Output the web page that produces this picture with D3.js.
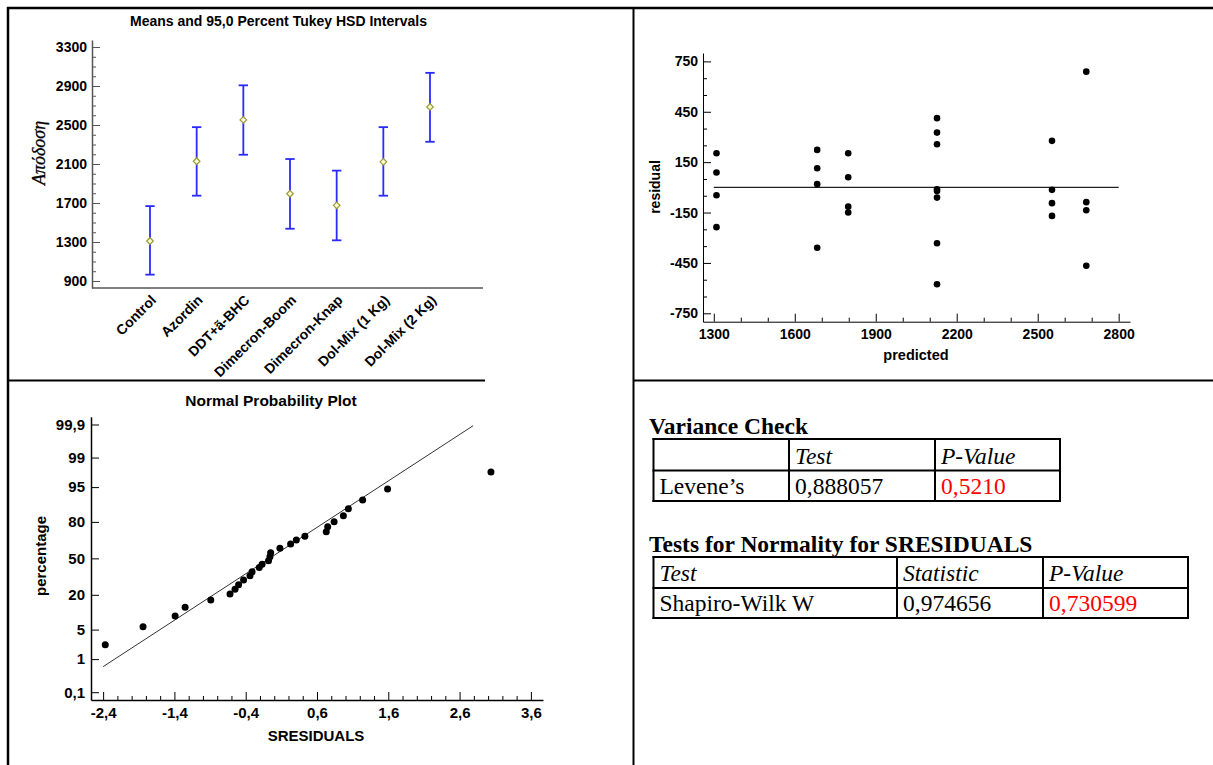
<!DOCTYPE html>
<html><head><meta charset="utf-8">
<script src="https://cdn.jsdelivr.net/npm/d3@7"></script>
<style>
html,body{margin:0;padding:0;background:#fff;}
svg{display:block;}
</style></head><body>
<svg id="c" width="1213" height="765"></svg>
<script>
// ================= DATA =================
// Panel 1: Means and 95,0 Percent Tukey HSD Intervals
const categories = ["Control","Azordin","DDT+ã-BHC","Dimecron-Boom","Dimecron-Knap","Dol-Mix (1 Kg)","Dol-Mix (2 Kg)"];
const means       = [1310, 2128, 2552, 1795, 1676, 2122, 2685];
const lowerLimits = [ 965, 1775, 2195, 1436, 1317, 1775, 2328];
const upperLimits = [1668, 2478, 2907, 2151, 2032, 2478, 3035];
const meansTicks  = [900, 1300, 1700, 2100, 2500, 2900, 3300];

// Panel 2: residual vs predicted
const predicted = [1310,1310,1310,1310, 1683,1683,1683,1683, 1798,1798,1798,1798,
                   2127,2127,2127,2127,2127,2127,2127,2127, 2553,2553,2553,2553, 2680,2680,2680,2680];
const residuals = [203,88,-47,-237, 223,114,19,-360, 203,60,-115,-150,
                   412,326,257,-12,-22,-61,-333,-577, 277,-15,-94,-170, 689,-88,-136,-467];
const residTicks = [-750,-450,-150,150,450,750];
const predTicks  = [1300,1600,1900,2200,2500,2800];
const zeroLineX  = [1300, 2800];

// Panel 3: Normal probability plot
const sres = [-2.37,-1.84,-1.39,-1.25,-0.89,-0.62,-0.55,-0.50,-0.43,-0.34,-0.31,-0.21,-0.17,-0.08,
              -0.06,-0.05,0.08,0.23,0.31,0.43,0.73,0.75,0.84,0.97,1.04,1.24,1.59,3.04];
const pct  = [2.3,5.7,9.2,12.9,16.8,20.5,23.7,27.1,30.9,34.4,37.9,41.6,44.6,47.8,
              51.5,55.2,59.2,63.0,66.4,69.5,73.1,76.8,80.1,83.7,87.4,91.1,94.5,97.7];
const fitLineX = [-2.40, 2.79];
const fitLineP = [0.62, 99.89];
const probTicks = [0.1, 1, 5, 20, 50, 80, 95, 99, 99.9];
const probTickLabels = ["0,1","1","5","20","50","80","95","99","99,9"];
const sresTicks = [-2.4,-1.4,-0.4,0.6,1.6,2.6,3.6];

// Panel 4: tables
const varTitle = "Variance Check";
const varHeader = ["", "Test", "P-Value"];
const varRow = ["Levene’s", "0,888057", "0,5210"];
const normTitle = "Tests for Normality for SRESIDUALS";
const normHeader = ["Test", "Statistic", "P-Value"];
const normRow = ["Shapiro-Wilk W", "0,974656", "0,730599"];

// ================= HELPERS =================
function qnorm(p){
  const a=[-3.969683028665376e+01,2.209460984245205e+02,-2.759285104469687e+02,1.383577518672690e+02,-3.066479806614716e+01,2.506628277459239e+00];
  const b=[-5.447609879822406e+01,1.615858368580409e+02,-1.556989798598866e+02,6.680131188771972e+01,-1.328068155288572e+01];
  const c=[-7.784894002430293e-03,-3.223964580411365e-01,-2.400758277161838e+00,-2.549732539343734e+00,4.374664141464968e+00,2.938163982698783e+00];
  const d=[7.784695709041462e-03,3.224671290700398e-01,2.445134137142996e+00,3.754408661907416e+00];
  const pl=0.02425, ph=1-pl; let q,r;
  if(p<pl){q=Math.sqrt(-2*Math.log(p));return (((((c[0]*q+c[1])*q+c[2])*q+c[3])*q+c[4])*q+c[5])/((((d[0]*q+d[1])*q+d[2])*q+d[3])*q+1);}
  if(p<=ph){q=p-0.5;r=q*q;return (((((a[0]*r+a[1])*r+a[2])*r+a[3])*r+a[4])*r+a[5])*q/(((((b[0]*r+b[1])*r+b[2])*r+b[3])*r+b[4])*r+1);}
  q=Math.sqrt(-2*Math.log(1-p));return -(((((c[0]*q+c[1])*q+c[2])*q+c[3])*q+c[4])*q+c[5])/((((d[0]*q+d[1])*q+d[2])*q+d[3])*q+1);
}
const commaFmt = d3.formatLocale({decimal:",", thousands:".", grouping:[3], currency:["",""], minus:"-"}).format(".1f");
function minorRange(a,b,step,majors){
  const out=[]; for(let v=a; v<=b+1e-9; v+=step){ const r=Math.round(v*1000)/1000; if(!majors.some(m=>Math.abs(m-r)<1e-6)) out.push(r);} return out;
}
const SANS = "'Liberation Sans', Arial, sans-serif";
const SERIF = "'Liberation Serif', 'Times New Roman', serif";

const svg = d3.select("#c");

// ================= CELL BORDERS =================
const borders = svg.append("g").attr("stroke","#000").attr("fill","none");
borders.append("line").attr("x1",8).attr("x2",8).attr("y1",7).attr("y2",765).attr("stroke-width",2.5);
borders.append("line").attr("x1",7).attr("x2",1213).attr("y1",8).attr("y2",8).attr("stroke-width",2.5);
borders.append("line").attr("x1",633.5).attr("x2",633.5).attr("y1",8).attr("y2",765).attr("stroke-width",2);
borders.append("line").attr("x1",8).attr("x2",485).attr("y1",380.5).attr("y2",380.5).attr("stroke-width",2);
borders.append("line").attr("x1",633).attr("x2",1213).attr("y1",380.5).attr("y2",380.5).attr("stroke-width",2);

function styleAxis(g, size, color){
  g.selectAll("text").attr("font-family",SANS).attr("font-weight","bold").attr("font-size",size).attr("fill","#000");
  g.selectAll("line").attr("stroke",color);
  g.selectAll("path").attr("stroke",color);
}

// ================= PANEL 1 =================
(function(){
  const g = svg.append("g");
  const y = d3.scaleLinear().domain([828, 3372]).range([288, 40]);
  const x = d3.scalePoint().domain(categories).range([150, 430]);
  const axisX0 = 92, axisX1 = 483;

  g.append("text").attr("x",278.5).attr("y",26).attr("text-anchor","middle")
    .attr("font-family",SANS).attr("font-weight","bold").attr("font-size",14).attr("fill","#000")
    .text("Means and 95,0 Percent Tukey HSD Intervals");

  const ya = g.append("g").attr("transform",`translate(${axisX0},0)`)
    .call(d3.axisLeft(y).tickValues(meansTicks).tickFormat(d=>String(d)).tickSizeInner(-8).tickSizeOuter(0).tickPadding(5));
  styleAxis(ya, 14, "#555");
  ya.select(".domain").attr("stroke-width",1.5);
  const ym = g.append("g").attr("transform",`translate(${axisX0},0)`)
    .call(d3.axisLeft(y).tickValues(minorRange(900,3300,100,meansTicks)).tickFormat("").tickSizeInner(-4).tickSizeOuter(0));
  ym.select(".domain").remove(); ym.selectAll("line").attr("stroke","#555");

  // x axis line
  g.append("line").attr("x1",axisX0).attr("x2",axisX1).attr("y1",y.range()[0]).attr("y2",y.range()[0])
    .attr("stroke","#555").attr("stroke-width",1.5);

  g.selectAll(".xl").data(categories).join("text")
    .attr("transform",d=>`translate(${x(d)+7},301) rotate(-45)`)
    .attr("text-anchor","end").attr("font-family",SANS).attr("font-weight","bold").attr("font-size",14).attr("fill","#000")
    .text(d=>d);

  g.append("text").attr("transform","translate(45,153) rotate(-90)").attr("text-anchor","middle")
    .attr("font-family",SERIF).attr("font-style","italic").attr("font-size",18).attr("fill","#000")
    .attr("stroke","#000").attr("stroke-width",0.3)
    .text("Απόδοση");

  const bars = g.append("g").attr("stroke","#2a2aff").attr("stroke-width",1.8).attr("fill","none");
  categories.forEach((c,i)=>{
    const cx = x(c);
    bars.append("line").attr("x1",cx).attr("x2",cx).attr("y1",y(lowerLimits[i])).attr("y2",y(upperLimits[i]));
    bars.append("line").attr("x1",cx-4.7).attr("x2",cx+4.7).attr("y1",y(lowerLimits[i])).attr("y2",y(lowerLimits[i]));
    bars.append("line").attr("x1",cx-4.7).attr("x2",cx+4.7).attr("y1",y(upperLimits[i])).attr("y2",y(upperLimits[i]));
  });
  g.selectAll(".mean").data(means).join("path")
    .attr("d",(d,i)=>{const cx=x(categories[i]), cy=y(d); return `M${cx-3.3},${cy}L${cx},${cy-3.3}L${cx+3.3},${cy}L${cx},${cy+3.3}Z`;})
    .attr("fill","#fbfbd0").attr("stroke","#9a9a3a").attr("stroke-width",1.2);
})();

// ================= PANEL 2 =================
(function(){
  const g = svg.append("g");
  const x = d3.scaleLinear().domain([1260, 2842]).range([703, 1130]);
  const y = d3.scaleLinear().domain([-800, 800]).range([321.7, 53]);

  const ya = g.append("g").attr("transform",`translate(${x.range()[0]},0)`)
    .call(d3.axisLeft(y).tickValues(residTicks).tickFormat(d=>String(d)).tickSizeInner(-8).tickSizeOuter(0).tickPadding(5));
  styleAxis(ya, 14, "#000");
  const ym = g.append("g").attr("transform",`translate(${x.range()[0]},0)`)
    .call(d3.axisLeft(y).tickValues(minorRange(-750,750,100,residTicks)).tickFormat("").tickSizeInner(-4).tickSizeOuter(0));
  ym.select(".domain").remove(); ym.selectAll("line").attr("stroke","#000");

  const xa = g.append("g").attr("transform",`translate(0,${y.range()[0]})`)
    .call(d3.axisBottom(x).tickValues(predTicks).tickFormat(d=>String(d)).tickSizeInner(-8).tickSizeOuter(0).tickPadding(7));
  styleAxis(xa, 14, "#000");
  const xm = g.append("g").attr("transform",`translate(0,${y.range()[0]})`)
    .call(d3.axisBottom(x).tickValues(minorRange(1300,2800,100,predTicks)).tickFormat("").tickSizeInner(-4).tickSizeOuter(0));
  xm.select(".domain").remove(); xm.selectAll("line").attr("stroke","#000");

  g.append("line").attr("x1",x(zeroLineX[0])).attr("x2",x(zeroLineX[1])).attr("y1",y(0)).attr("y2",y(0))
    .attr("stroke","#222").attr("stroke-width",1.3);

  g.selectAll(".pt").data(residuals).join("circle")
    .attr("cx",(d,i)=>x(predicted[i])).attr("cy",d=>y(d)).attr("r",3.3).attr("fill","#000");

  g.append("text").attr("transform","translate(660,187) rotate(-90)").attr("text-anchor","middle")
    .attr("font-family",SANS).attr("font-weight","bold").attr("font-size",14).attr("fill","#000").text("residual");
  g.append("text").attr("x",916).attr("y",360).attr("text-anchor","middle")
    .attr("font-family",SANS).attr("font-weight","bold").attr("font-size",14.5).attr("fill","#000").text("predicted");
})();

// ================= PANEL 3 =================
(function(){
  const g = svg.append("g");
  const x = d3.scaleLinear().domain([-2.57, 3.77]).range([91, 543]);
  const z = d3.scaleLinear().domain([-3.27, 3.27]).range([700, 416.7]);
  const yP = p => z(qnorm(p/100));

  g.append("text").attr("x",271).attr("y",406).attr("text-anchor","middle")
    .attr("font-family",SANS).attr("font-weight","bold").attr("font-size",15.5).attr("fill","#000")
    .text("Normal Probability Plot");

  const ya = g.append("g").attr("transform",`translate(${x.range()[0]},0)`)
    .call(d3.axisLeft(z).tickValues(probTicks.map(p=>qnorm(p/100))).tickFormat((d,i)=>probTickLabels[i])
      .tickSizeInner(-8).tickSizeOuter(0).tickPadding(6));
  styleAxis(ya, 15, "#000");
  ya.select(".domain").attr("stroke-width",1.5);

  const xa = g.append("g").attr("transform",`translate(0,${z.range()[0]})`)
    .call(d3.axisBottom(x).tickValues(sresTicks).tickFormat(d=>commaFmt(d)).tickSizeInner(-8).tickSizeOuter(0).tickPadding(7));
  styleAxis(xa, 15, "#000");
  xa.select(".domain").attr("stroke-width",1.5);
  const xm = g.append("g").attr("transform",`translate(0,${z.range()[0]})`)
    .call(d3.axisBottom(x).tickValues(minorRange(-2.4,3.6,0.2,sresTicks)).tickFormat("").tickSizeInner(-4).tickSizeOuter(0));
  xm.select(".domain").remove(); xm.selectAll("line").attr("stroke","#000");

  g.append("line").attr("x1",x(fitLineX[0])).attr("x2",x(fitLineX[1]))
    .attr("y1",yP(fitLineP[0])).attr("y2",yP(fitLineP[1])).attr("stroke","#333").attr("stroke-width",1);

  g.selectAll(".np").data(sres).join("circle")
    .attr("cx",d=>x(d)).attr("cy",(d,i)=>yP(pct[i])).attr("r",3.5).attr("fill","#000");

  g.append("text").attr("transform","translate(46,556) rotate(-90)").attr("text-anchor","middle")
    .attr("font-family",SANS).attr("font-weight","bold").attr("font-size",15).attr("fill","#000").text("percentage");
  g.append("text").attr("x",316).attr("y",741).attr("text-anchor","middle")
    .attr("font-family",SANS).attr("font-weight","bold").attr("font-size",15).attr("fill","#000").text("SRESIDUALS");
})();

// ================= PANEL 4: TABLES =================
(function(){
  const g = svg.append("g");
  function table(cols, rows, cells, styles){
    const tg = g.append("g");
    rows.forEach(yv=>tg.append("line").attr("x1",cols[0]-1).attr("x2",cols[cols.length-1]+1).attr("y1",yv).attr("y2",yv)
      .attr("stroke","#000").attr("stroke-width",2));
    cols.forEach(xv=>tg.append("line").attr("x1",xv).attr("x2",xv).attr("y1",rows[0]-1).attr("y2",rows[rows.length-1]+1)
      .attr("stroke","#000").attr("stroke-width",2));
    cells.forEach((row,r)=>row.forEach((txt,c)=>{
      const s = styles(r,c);
      tg.append("text").attr("x",cols[c]+6).attr("y",rows[r+1]-7)
        .attr("font-family",SERIF).attr("font-size",23.5)
        .attr("font-style",s.italic?"italic":"normal").attr("fill",s.color||"#000").text(txt);
    }));
  }
  g.append("text").attr("x",649).attr("y",434).attr("font-family",SERIF).attr("font-weight","bold")
    .attr("font-size",23.5).attr("fill","#000").text(varTitle);
  table([653.5,789,935,1060],[439,470.5,501],[varHeader,varRow],
    (r,c)=>({italic:r===0, color:(r===1&&c===2)?"#ff0000":"#000"}));

  g.append("text").attr("x",649).attr("y",552).attr("font-family",SERIF).attr("font-weight","bold")
    .attr("font-size",23.5).attr("fill","#000").text(normTitle);
  table([653.5,897,1043,1188],[557,588,618],[normHeader,normRow],
    (r,c)=>({italic:r===0, color:(r===1&&c===2)?"#ff0000":"#000"}));
})();
</script>
</body></html>
